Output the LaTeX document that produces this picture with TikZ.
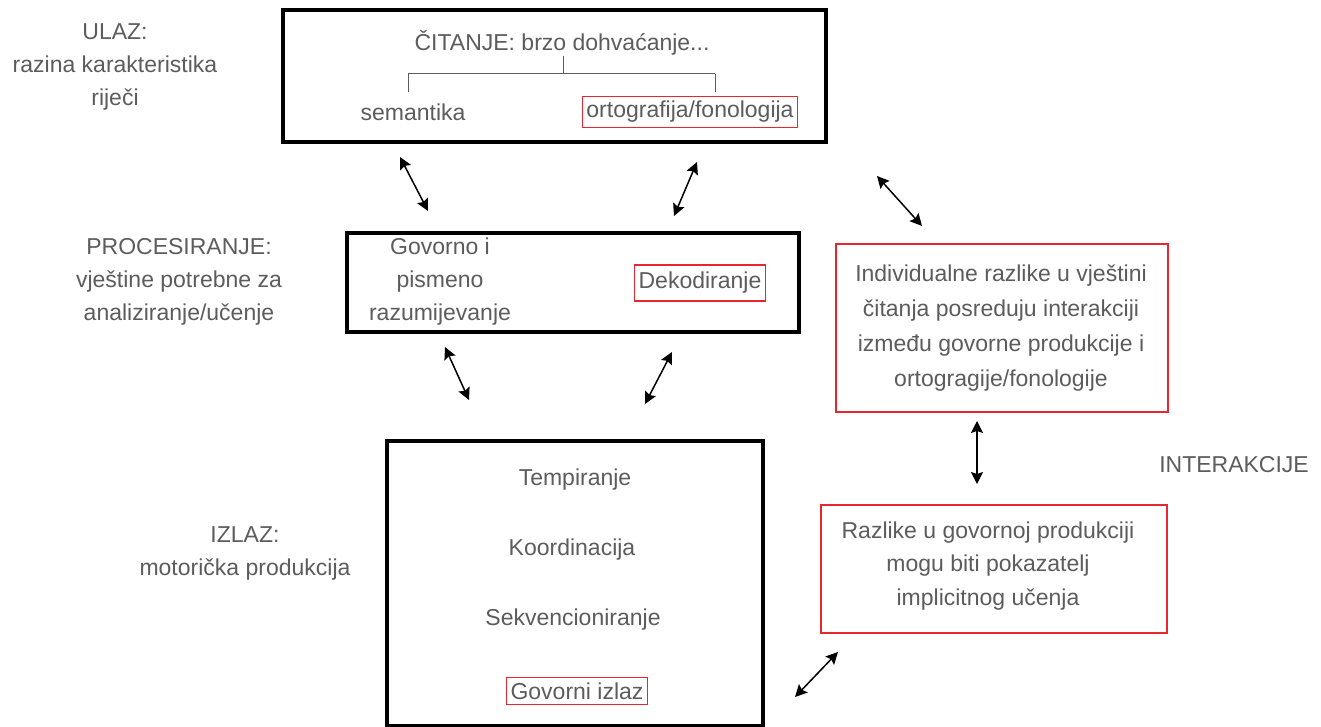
\documentclass[tikz,border=0pt]{standalone}
\usepackage{fontspec}
\setmainfont{Liberation Sans}
\usetikzlibrary{arrows.meta}
\definecolor{txt}{RGB}{92,92,92}
\definecolor{rd}{RGB}{232,38,48}
\begin{document}
\begin{tikzpicture}[x=1pt,y=-1pt,
  every node/.style={font=\fontsize{23}{33}\selectfont, text=txt, inner sep=0pt},
  bigbox/.style={draw=black, line width=4pt, inner sep=0pt},
  redbox/.style={draw=rd, line width=1.5pt, inner sep=0pt},
  tag/.style={draw=rd, line width=1.2pt, inner xsep=4pt, inner ysep=5pt},
  dbl/.style={{Stealth[length=12pt,width=12pt,inset=2pt]}-{Stealth[length=12pt,width=12pt,inset=2pt]}, line width=1.5pt},
  tree/.style={draw=txt, line width=1pt}]
\useasboundingbox[fill=white] (0,0) rectangle (1321,727);

% left labels
\node[align=center] (ulaz) at (115,67) {ULAZ:\\razina karakteristika\\riječi};
\node[align=center] (proc) at (179,282) {PROCESIRANJE:\\vještine potrebne za\\analiziranje/učenje};
\node[align=center] (izlaz) at (245,553) {IZLAZ:\\motorička produkcija};

% top box
\node[bigbox, minimum width=543, minimum height=132] (read) at (554.5,76) {};
\node (readt) at (562,43) {ČITANJE: brzo dohvaćanje...};
\node (sem) at (413,112) {semantika};
\node[tag] (orto) at (690,112) {ortografija/fonologija};
\coordinate (tm) at (563,74);
\coordinate (tl) at (408,74);
\coordinate (tr) at (715,74);
\draw[tree] (tm |- readt.south) -- (tm);
\draw[tree] (tl) -- (tr);
\draw[tree] (tl) -- ++(0,18);
\draw[tree] (tr) -- ++(0,18);

% processing box
\node[bigbox, line width=3.5pt, minimum width=452, minimum height=99] (procbox) at (573,282.5) {};
\node[align=center] (govpis) at (440,282) {Govorno i\\pismeno\\razumijevanje};
\node[tag, minimum height=36] (dek) at (700,283) {Dekodiranje};

% bottom box
\node[bigbox, minimum width=376, minimum height=285] (outbox) at (575,583.5) {};
\node (temp) at (575,480) {Tempiranje};
\node (koord) at (572,550) {Koordinacija};
\node (sekv) at (573,620) {Sekvencioniranje};
\node[tag] (govizl) at (577,691) {Govorni izlaz};

% right boxes
\node[redbox, minimum width=332, minimum height=168] (ind) at (1002,328) {};
\node[align=center, font=\fontsize{23}{35}\selectfont] (indt) at (1001,328) {Individualne razlike u vještini\\čitanja posreduju interakciji\\između govorne produkcije i\\ortogragije/fonologije};
\node[redbox, minimum width=346, minimum height=128] (razl) at (994,569) {};
\node[align=center, font=\fontsize{23}{33.5}\selectfont] (razlt) at (988,566) {Razlike u govornoj produkciji\\mogu biti pokazatelj\\implicitnog učenja};

\node (inter) at (1234,465) {INTERAKCIJE};

% arrows
\coordinate (a1s) at (400,157); \coordinate (a1e) at (428,211);
\coordinate (a2s) at (697,162); \coordinate (a2e) at (674,216);
\coordinate (a3s) at (877,176); \coordinate (a3e) at (922,226);
\coordinate (a4s) at (445,347); \coordinate (a4e) at (469,400);
\coordinate (a5s) at (672,352); \coordinate (a5e) at (645,404);
\coordinate (a6s) at (977,421); \coordinate (a6e) at (977,484);
\coordinate (a7s) at (838,652); \coordinate (a7e) at (795,697);
\draw[dbl] (a1s) -- (a1e);
\draw[dbl] (a2s) -- (a2e);
\draw[dbl] (a3s) -- (a3e);
\draw[dbl] (a4s) -- (a4e);
\draw[dbl] (a5s) -- (a5e);
\draw[dbl] (a6s) -- (a6e);
\draw[dbl] (a7s) -- (a7e);
\end{tikzpicture}
\end{document}
